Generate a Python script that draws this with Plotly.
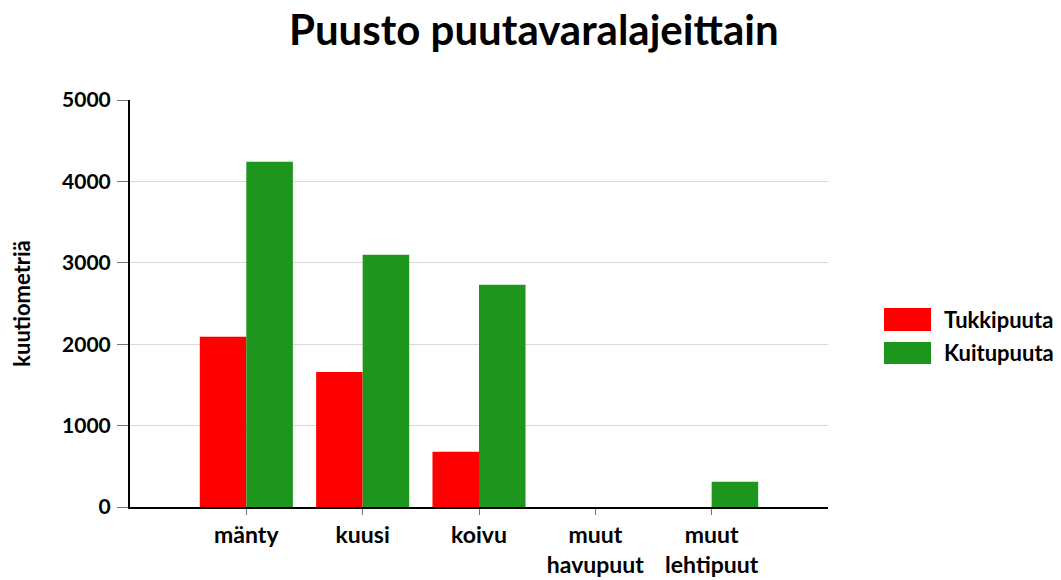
import plotly.graph_objects as go

categories = ["mänty", "kuusi", "koivu", "muut<br>havupuut", "muut<br>lehtipuut"]
series_names = ["Tukkipuuta", "Kuitupuuta"]
tukkipuuta = [2090, 1660, 680, 0, 0]
kuitupuuta = [4240, 3100, 2730, 0, 310]
series_values = [tukkipuuta, kuitupuuta]
series_colors = ["#ff0000", "#1e961e"]
y_ticks = [0, 1000, 2000, 3000, 4000, 5000]
title_text = "Puusto puutavaralajeittain"

FONT = "Lato"

fig = go.Figure()
for name, vals, col in zip(series_names, series_values, series_colors):
    fig.add_trace(go.Bar(x=categories, y=vals, name=name, marker=dict(color=col, line=dict(width=0)),
                         showlegend=False))

# custom legend (large swatches like the reference)
legend_boxes = [(0.4324, 0.4889), (0.3514, 0.4054)]
for (y0, y1), name, col in zip(legend_boxes, series_names, series_colors):
    fig.add_shape(type="rect", xref="paper", yref="paper", x0=1.0802, x1=1.1476, y0=y0, y1=y1,
                  fillcolor=col, line=dict(width=0))
    fig.add_annotation(xref="paper", yref="paper", x=1.1633, y=(y0 + y1) / 2, text=name, showarrow=False,
                       xanchor="left", yanchor="middle",
                       font=dict(family=FONT, size=22, color="black", weight="bold"))

# chart title
fig.add_annotation(xref="paper", yref="paper", x=0.579, y=1.175, text=title_text, showarrow=False,
                   xanchor="center", yanchor="middle",
                   font=dict(family=FONT, size=42, color="black", weight="bold"))

fig.update_layout(
    width=1053, height=572,
    margin=dict(l=122, r=233, t=92, b=73, autoexpand=False),
    paper_bgcolor="white", plot_bgcolor="white",
    barmode="group", bargap=0.2, bargroupgap=0,
    xaxis=dict(range=[-1, 5], showline=True, linecolor="black", linewidth=2, automargin=False,
               ticks="outside", ticklen=6, tickcolor="#777777", tickwidth=1,
               tickfont=dict(family=FONT, size=23, color="black", weight="bold"), showgrid=False),
    yaxis=dict(range=[0, 5000], tickvals=y_ticks, showline=True, linecolor="black", linewidth=2,
               automargin=False,
               ticks="outside", ticklen=11, tickcolor="#777777", tickwidth=1,
               ticklabelstandoff=2,
               gridcolor="#d9d9d9", gridwidth=1, zeroline=False,
               tickfont=dict(family=FONT, size=21, color="black", weight="bold"),
               title=dict(text="kuutiometriä", standoff=26,
                          font=dict(family=FONT, size=22, color="black", weight="bold"))),
)

fig.write_html("out.html")
